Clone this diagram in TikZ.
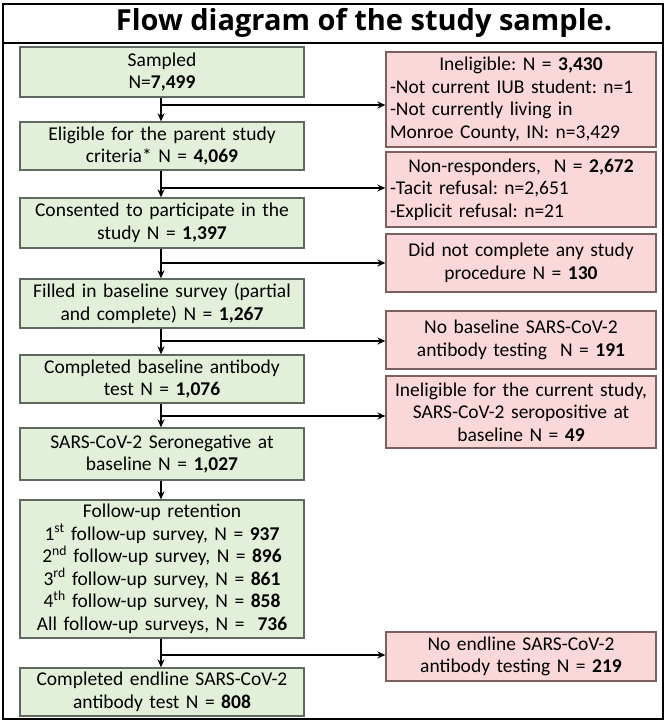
\documentclass[tikz,border=0pt]{standalone}
\usepackage{fontspec}
\setmainfont{Carlito}
\newfontfamily\titlefont{Open Sans}
\usetikzlibrary{arrows.meta}
\definecolor{gfill}{RGB}{226,239,217}
\definecolor{gdraw}{RGB}{95,105,95}
\definecolor{pfill}{RGB}{250,215,216}
\definecolor{pdraw}{RGB}{125,95,95}
\frenchspacing
\tikzset{
  base/.style={font=\frenchspacing\fontsize{19.5}{22.5}\selectfont, line width=1.3pt, inner xsep=4pt, inner ysep=0pt},
  gbox/.style={base, fill=gfill, draw=gdraw, minimum width=284pt, text width=276pt, align=center},
  pbox/.style={base, fill=pfill, draw=pdraw, minimum width=270pt, text width=262pt},
  pboxc/.style={pbox, align=center},
  arr/.style={line width=1.6pt, -{Stealth[length=8pt,width=7pt]}}
}
\begin{document}
\begin{tikzpicture}[x=1pt,y=-1pt]
\useasboundingbox (0,0) rectangle (669,722);
% frame
\draw[line width=1.3pt] (3,4) rectangle (663,719);
\draw[line width=1.3pt] (3,43) -- (663,43);
\node[font=\titlefont\bfseries\fontsize{29}{33}\selectfont] (title) at (364,23) {Flow diagram of the study sample.};
% left column
\node[gbox, minimum height=50pt] (b1) at (162,72) {Sampled\\N=\textbf{7,499}};
\node[gbox, minimum height=48pt] (b2) at (162,146) {Eligible for the parent study\\criteria* N = \textbf{4,069}};
\node[gbox, minimum height=50pt] (b3) at (162,223) {Consented to participate in the\\study N = \textbf{1,397}};
\node[gbox, minimum height=49pt] (b4) at (162,303.5) {Filled in baseline survey (partial\\and complete) N = \textbf{1,267}};
\node[gbox, minimum height=48pt] (b5) at (162,379) {Completed baseline antibody\\test N = \textbf{1,076}};
\node[gbox, minimum height=52pt] (b6) at (162,454) {SARS-CoV-2 Seronegative at\\baseline N = \textbf{1,027}};
\node[gbox, minimum height=138pt] (b7) at (162,569) {Follow-up retention\\1\textsuperscript{st} follow-up survey, N = \textbf{937}\\2\textsuperscript{nd} follow-up survey, N = \textbf{896}\\3\textsuperscript{rd} follow-up survey, N = \textbf{861}\\4\textsuperscript{th} follow-up survey, N = \textbf{858}\\All follow-up surveys, N =\ \ \textbf{736}};
\node[gbox, minimum height=48pt] (b8) at (162,692) {Completed endline SARS-CoV-2\\antibody test N = \textbf{808}};
% right column
\node[pbox, minimum height=95pt] (p1) at (521,99.5) {{\centering Ineligible: N = \textbf{3,430}\par}\raggedright -Not current IUB student: n=1\\-Not currently living in\\Monroe County, IN: n=3,429};
\node[pbox, minimum height=75pt] (p2) at (521,189.5) {{\centering Non-responders,\ \ N = \textbf{2,672}\par}\raggedright -Tacit refusal: n=2,651\\-Explicit refusal: n=21};
\node[pboxc, minimum height=58pt] (p3) at (521,263) {Did not complete any study\\procedure N = \textbf{130}};
\node[pboxc, minimum height=58pt] (p4) at (521,340) {No baseline SARS-CoV-2\\antibody testing\ \ N = \textbf{191}};
\node[pboxc, minimum height=72pt] (p5) at (521,412) {Ineligible for the current study,\\SARS-CoV-2 seropositive at\\baseline N = \textbf{49}};
\node[pboxc, minimum height=49pt] (p6) at (521,656.5) {No endline SARS-CoV-2\\antibody testing N = \textbf{219}};
% junctions
\coordinate (j1) at (161,105);
\coordinate (j2) at (161,188);
\coordinate (j3) at (161,263);
\coordinate (j4) at (161,341);
\coordinate (j5) at (161,416);
\coordinate (j7) at (161,655);
% vertical arrows
\draw[arr] (b1.south -| j1) -- (b2.north -| j1);
\draw[arr] (b2.south -| j1) -- (b3.north -| j1);
\draw[arr] (b3.south -| j1) -- (b4.north -| j1);
\draw[arr] (b4.south -| j1) -- (b5.north -| j1);
\draw[arr] (b5.south -| j1) -- (b6.north -| j1);
\draw[arr] (b6.south -| j1) -- (b7.north -| j1);
\draw[arr] (b7.south -| j1) -- (b8.north -| j1);
% side arrows
\draw[arr] (j1) -- (j1 -| p1.west);
\draw[arr] (j2) -- (j2 -| p2.west);
\draw[arr] (j3) -- (j3 -| p3.west);
\draw[arr] (j4) -- (j4 -| p4.west);
\draw[arr] (j5) -- (j5 -| p5.west);
\draw[arr] (j7) -- (j7 -| p6.west);
\end{tikzpicture}
\end{document}
